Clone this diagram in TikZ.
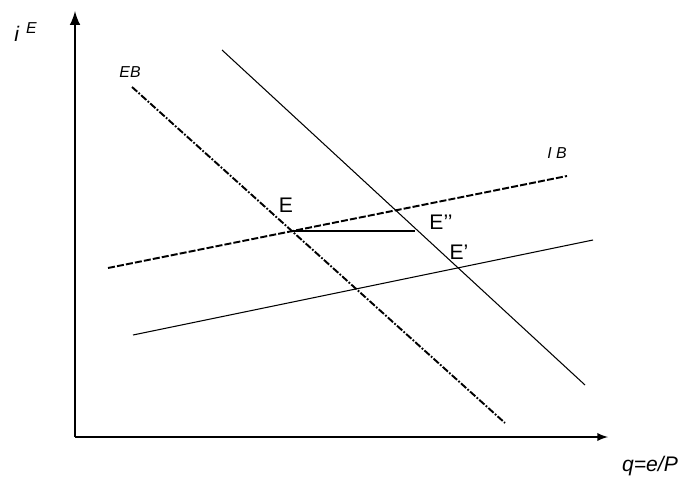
\documentclass[tikz,border=0pt]{standalone}
\usepackage{fontspec}
\setmainfont{Liberation Sans}
\begin{document}
\begin{tikzpicture}[x=0.02cm, y=-0.02cm, every node/.style={font=\small}]
\useasboundingbox (0,0) rectangle (688,486);
\tikzset{curve/.style={line width=1.1pt, dash pattern=on 4pt off 1pt on 1pt off 1pt},
         lbl/.style={inner sep=0pt, font=\small\itshape},
         pt/.style={inner sep=0pt, font=\large}}
% axes
\coordinate (O) at (75,437);
\coordinate (ytop) at (75,11);
\coordinate (xend) at (608,437);
\draw[line width=1.7pt,-latex] (O) -- (ytop);
\draw[line width=1.1pt,-latex] (O) -- (xend);
\node[inner sep=0pt,font=\large\itshape] (ylab) at (26,32) {i\hspace{4pt}$^{\textit{\small E}}$};
\node[inner sep=0pt,font=\large\itshape] (xlab) at (650,466) {q=e/P};
% schedules
\coordinate (eb1) at (132,87);
\coordinate (eb2) at (505,423);
\coordinate (ib1) at (108,268);
\coordinate (ib2) at (567,176);
\coordinate (s1) at (222,50);
\coordinate (s2) at (585,385);
\coordinate (t1) at (133,335);
\coordinate (t2) at (593,240);
\draw[curve] (eb1) -- (eb2);
\draw[line width=1.1pt, dash pattern=on 4pt off 1.2pt] (ib1) -- (ib2);
\draw[line width=0.6pt] (s1) -- (s2);
\draw[line width=0.6pt] (t1) -- (t2);
\coordinate (E) at (292,231);
\coordinate (h) at (415,231);
\draw[line width=0.8pt] (E) -- (h);
\node[lbl] (EBlab) at (130,72) {EB};
\node[lbl] (IBlab) at (557,153) {I B};
\node[pt] (Elab) at (286,205) {E};
\node[pt] (Epplab) at (441,222) {E’’};
\node[pt] (Eplab) at (459,252) {E’};
\end{tikzpicture}
\end{document}
